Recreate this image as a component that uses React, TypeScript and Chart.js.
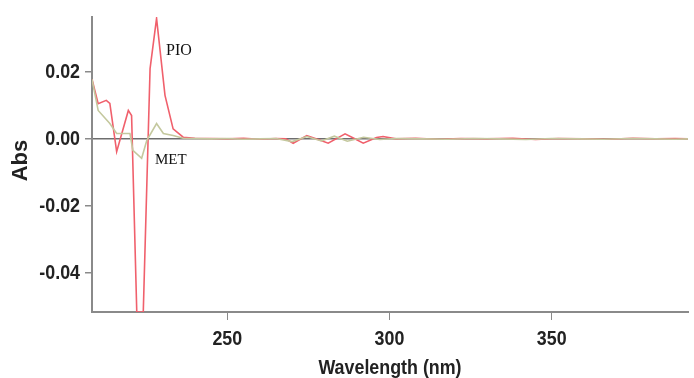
import React, { useEffect, useRef } from "react";
import { Chart, registerables } from "chart.js";

Chart.register(...registerables);

// Wavelength (nm) and absorbance readings, PIO (red) trace
const pioWavelength = [
  208.3, 210.2, 212.7, 213.8, 215.9, 219.5, 220.5, 222.1, 224.1, 226.2, 228.2, 230.8,
  233.3, 236.4, 240, 245, 250, 255, 260, 265, 268, 270.3, 274.5, 278, 281.1, 286.3,
  289, 291.9, 296, 298, 302, 308, 315, 322, 330, 338, 345, 352, 360, 368, 375, 382, 388, 392,
];
const pioAbs = [
  0.0178, 0.0105, 0.0115, 0.0106, -0.0038, 0.0085, 0.007, -0.0517, -0.0517, 0.021, 0.036, 0.013,
  0.003, 0.0005, 0.0002, 0.0001, 0.0, 0.0002, -0.0001, 0.0001, 0.0, -0.0013, 0.001, -0.0002, -0.0013, 0.0015,
  0.0002, -0.0013, 0.0004, 0.0007, 0.0, 0.0002, -0.0001, 0.0001, 0.0, 0.0002, -0.0002, 0.0001, 0.0, -0.0001, 0.0002, 0.0, 0.0001, 0.0,
];

// MET (olive/tan) trace
const metWavelength = [
  208.3, 210.2, 213.8, 215.9, 220, 220.9, 223.6, 225.2, 228.2, 230.3, 233.3, 236.4,
  240, 245, 250, 255, 260, 265, 270, 274.5, 279, 283, 287, 292, 297, 302, 310,
  318, 326, 334, 342, 350, 358, 366, 374, 382, 388, 392,
];
const metAbs = [
  0.0178, 0.0085, 0.0046, 0.0016, 0.0016, -0.0034, -0.0058, -0.0004, 0.0046, 0.0016, 0.001, 0.0002,
  0.0001, 0.0, 0.0001, -0.0001, 0.0, 0.0001, -0.0008, 0.0007, -0.0006, 0.0008, -0.0007, 0.0005, -0.0002, 0.0001, 0.0,
  -0.0001, 0.0001, 0.0, -0.0002, 0.0001, 0.0, -0.0001, 0.0001, 0.0, -0.0001, 0.0,
];

const xTicks = [250, 300, 350];
const yTicks = [-0.04, -0.02, 0, 0.02];
const xTitle = "Wavelength (nm)";
const yTitle = "Abs";
const seriesNames = ["PIO", "MET"];

const SANS = '"Liberation Sans", Arial, sans-serif';
const SERIF = '"Liberation Serif", "Times New Roman", serif';
const NARROW_SCALE = 0.85;

function narrowText(ctx: CanvasRenderingContext2D, text: string, x: number, y: number, align: "left" | "center" | "right") {
  ctx.save();
  ctx.translate(x, y);
  ctx.scale(NARROW_SCALE, 1);
  ctx.textAlign = align;
  ctx.fillText(text, 0, 0);
  ctx.restore();
}

export default function App() {
  const ref = useRef<HTMLCanvasElement | null>(null);

  useEffect(() => {
    document.body.style.margin = "0";
    const canvas = ref.current;
    if (!canvas) return;

    const textPlugin = {
      id: "textLabels",
      afterDraw(chart: any) {
        const ctx = chart.ctx as CanvasRenderingContext2D;
        const xs = chart.scales.x;
        const ys = chart.scales.y;
        const area = chart.chartArea;
        ctx.save();
        ctx.fillStyle = "#222";
        ctx.textBaseline = "middle";
        ctx.font = `bold 21px ${SANS}`;
        // tick labels
        xTicks.forEach((v) => narrowText(ctx, String(v), xs.getPixelForValue(v), 339, "center"));
        yTicks.forEach((v) => narrowText(ctx, v.toFixed(2), 80, ys.getPixelForValue(v), "right"));
        // x title
        narrowText(ctx, xTitle, 390, 368, "center");
        // y title
        ctx.save();
        ctx.translate(21, (area.top + area.bottom) / 2 - 4);
        ctx.rotate(-Math.PI / 2);
        ctx.textAlign = "center";
        ctx.font = `bold 22px ${SANS}`;
        ctx.fillText(yTitle, 0, 0);
        ctx.restore();
        // series labels
        ctx.fillStyle = "#111";
        ctx.textAlign = "left";
        ctx.font = `16px ${SERIF}`;
        ctx.fillText(seriesNames[0], 166, 51);
        ctx.font = `15px ${SERIF}`;
        ctx.fillText(seriesNames[1], 155, 160);
        ctx.restore();
      },
    };

    const chart = new Chart(canvas, {
      type: "line",
      data: {
        datasets: [
          {
            label: seriesNames[1],
            data: metWavelength.map((x, i) => ({ x, y: metAbs[i] })),
            borderColor: "#c4c89e",
            borderWidth: 1.6,
            pointRadius: 0,
            tension: 0,
          },
          {
            label: seriesNames[0],
            data: pioWavelength.map((x, i) => ({ x, y: pioAbs[i] })),
            borderColor: "#f0606c",
            borderWidth: 1.6,
            pointRadius: 0,
            tension: 0,
          },
        ],
      },
      options: {
        animation: false,
        responsive: false,
        maintainAspectRatio: false,
        layout: { padding: { left: 0, top: 17, right: 6, bottom: 0 } },
        plugins: { legend: { display: false }, tooltip: { enabled: false } },
        scales: {
          x: {
            type: "linear",
            min: 208.3,
            max: 392,
            afterBuildTicks: (s: any) => {
              s.ticks = xTicks.map((v) => ({ value: v }));
            },
            afterFit: (s: any) => {
              s.height = 66;
            },
            border: { color: "#8a8a8a", width: 2 },
            grid: { color: "transparent", tickColor: "#8a8a8a", tickLength: 8, tickWidth: 1 },
            ticks: { display: false },
          },
          y: {
            type: "linear",
            min: -0.0517,
            max: 0.0364,
            afterBuildTicks: (s: any) => {
              s.ticks = yTicks.map((v) => ({ value: v }));
            },
            afterFit: (s: any) => {
              s.width = 92;
            },
            border: { color: "#8a8a8a", width: 2 },
            grid: {
              color: (c: any) => (c.tick && c.tick.value === 0 ? "#6e6e6e" : "transparent"),
              lineWidth: 1.5,
              tickColor: "#8a8a8a",
              tickLength: 7,
            },
            ticks: { display: false },
          },
        },
      },
      plugins: [textPlugin],
    } as any);

    return () => chart.destroy();
  }, []);

  return (
    <div style={{ width: 694, height: 378, background: "#fff" }}>
      <canvas ref={ref} width={694} height={378} style={{ display: "block", width: 694, height: 378 }} />
    </div>
  );
}
